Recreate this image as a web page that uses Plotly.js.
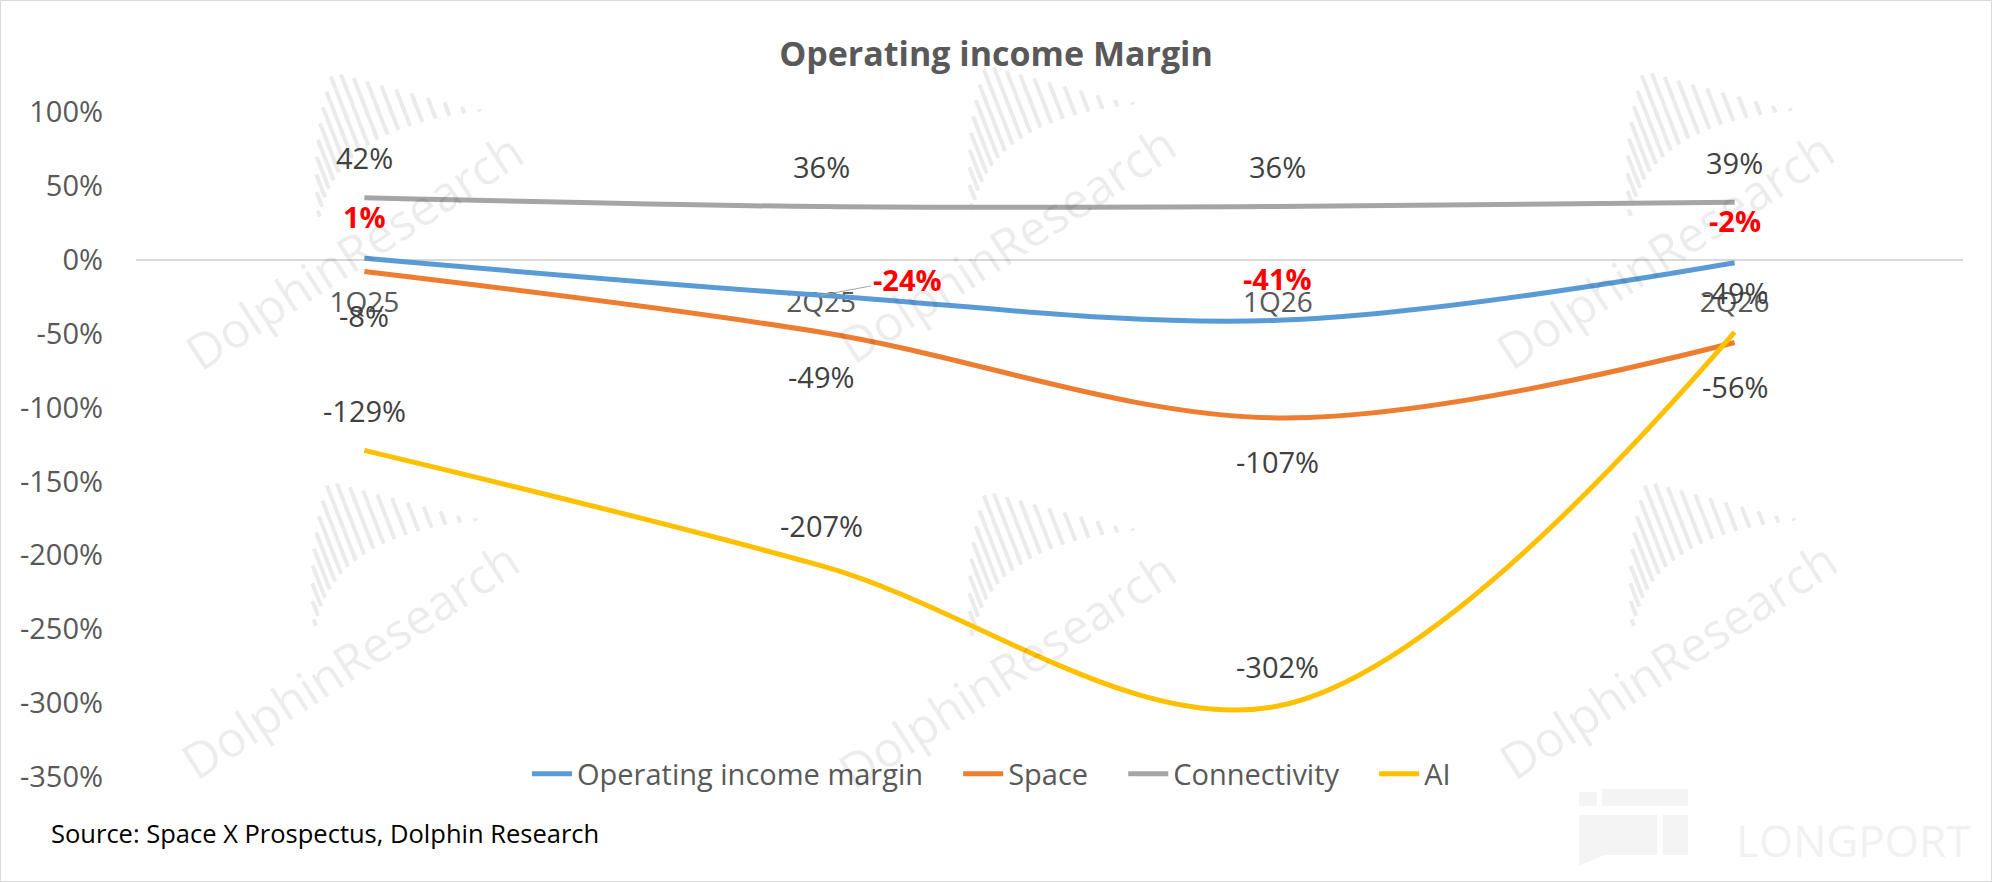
<!DOCTYPE html>
<html>
<head>
<meta charset="utf-8">
<script src="https://cdn.plot.ly/plotly-3.0.1.min.js"></script>
<style>
  body { margin: 0; background: #fff; }
  #wrap { width: 1990px; height: 880px; border: 1px solid #d9d9d9; }
  #chart { width: 1990px; height: 880px; }
</style>
</head>
<body>
<div id="wrap"><div id="chart"></div></div>
<script>
const quarters = ['1Q25', '2Q25', '1Q26', '2Q26'];
const opMargin = [1, -24, -41, -2];
const space = [-8, -49, -107, -56];
const connectivity = [42, 36, 36, 39];
const ai = [-129, -207, -302, -49];

const yTicks = [100, 50, 0, -50, -100, -150, -200, -250, -300, -350];

const font = '"Open Sans", "Noto Sans", sans-serif';
const txtGrey = '#595959';
const gap = '\u00a0\u00a0\u00a0\u00a0';

// pixel -> paper helpers for the decorations (plot area 1827 x 665)
const px = X => (X - 136) / 1827;
const py = Y => (777 - Y) / 665;

const line = (name, y, color) => ({
  x: quarters, y, name, type: 'scatter', mode: 'lines',
  line: { color, width: 5, shape: 'spline', smoothing: 1 },
  hoverinfo: 'skip'
});

const data = [
  line('Operating income margin' + gap, opMargin, '#5B9BD5'),
  line('Space' + gap, space, '#ED7D31'),
  line('Connectivity' + gap, connectivity, '#A5A5A5'),
  line('AI', ai, '#FFC000')
];

let annotations = [];
let shapes = [];

// watermarks (text centres in pixels), drawn first so labels sit on top
const marks = [[353, 251], [1006, 244], [1664, 250], [349, 660], [1006, 670], [1667, 660]];
marks.forEach(([X, Y]) => {
  annotations.push({
    x: px(X), y: py(Y), xref: 'paper', yref: 'paper', xanchor: 'center', yanchor: 'middle',
    text: 'DolphinResearch', showarrow: false, textangle: -33,
    font: { family: font, size: 49, color: 'rgba(0,0,0,0.075)' }
  });
  // fan of bars of the logo
  const ox = X - 73, oy = Y - 201;
  for (let i = 0; i < 19; i++) {
    const t = i / 18;
    const bx = (1 - t) ** 2 * 120 + 2 * (1 - t) * t * 170 + t * t * 600;
    const by = (1 - t) ** 2 * 500 + 2 * (1 - t) * t * 230 + t * t * 185;
    const s = (by - 65 - 0.267 * (bx - 150)) / 0.834;
    const L = Math.max(8, Math.min(s, 20 + t * 500));
    const tx = bx - 0.36 * L, ty = by - 0.93 * L;
    shapes.push({
      type: 'line', xref: 'paper', yref: 'paper', layer: 'below',
      x0: px(ox + bx / 3), y0: py(oy + by / 3), x1: px(ox + tx / 3), y1: py(oy + ty / 3),
      line: { color: '#ebebeb', width: 4 }
    });
  }
});

// data labels, placed via the axes
const lbl = (q, v, shift, opts = {}) => Object.assign({
  x: q, y: v, xref: 'x', yref: 'y', text: v + '%', showarrow: false,
  yshift: shift, font: { family: font, size: 29, color: '#404040' }
}, opts);

quarters.forEach((q, i) => {
  annotations.push(lbl(q, connectivity[i], 40));
  annotations.push(lbl(q, space[i], -44));
  annotations.push(lbl(q, ai[i], 40));
  const red = { font: { family: font, size: 29, color: '#FF0000', weight: 'bold' } };
  if (q === '2Q25') {
    annotations.push(lbl(q, opMargin[i], 0, Object.assign(red, {
      showarrow: true, ax: 86, ay: -16, arrowhead: 0, arrowwidth: 1,
      arrowcolor: '#a6a6a6', standoff: 0
    })));
  } else {
    annotations.push(lbl(q, opMargin[i], 42, red));
  }
});

// LONGPORT logo
const rect = (x0, y0, x1, y1) => ({
  type: 'rect', xref: 'paper', yref: 'paper', layer: 'below',
  x0: px(x0), y0: py(y0), x1: px(x1), y1: py(y1),
  fillcolor: '#f4f4f4', line: { width: 0 }
});
shapes.push(rect(1579, 792, 1597, 806), rect(1602, 789, 1688, 806),
  rect(1579, 815, 1657, 855), rect(1663, 815, 1688, 855));
shapes.push({
  type: 'path', xref: 'paper', yref: 'paper', layer: 'below',
  path: `M ${px(1579)} ${py(855)} L ${px(1579)} ${py(866)} L ${px(1605)} ${py(855)} Z`,
  fillcolor: '#f4f4f4', line: { width: 0 }
});
annotations.push({
  x: px(1853), y: py(840), xref: 'paper', yref: 'paper', xanchor: 'center', yanchor: 'middle',
  text: 'LONGPORT', showarrow: false,
  font: { family: font, size: 44, color: '#f1f1f1' }
});

annotations.push({
  x: px(49), y: py(833), xref: 'paper', yref: 'paper', xanchor: 'left', yanchor: 'middle',
  text: 'Source: Space X Prospectus, Dolphin Research', showarrow: false,
  font: { family: font, size: 25.5, color: '#000' }
});

const layout = {
  width: 1990, height: 880,
  margin: { l: 135, r: 28, t: 111, b: 104 },
  paper_bgcolor: '#fff', plot_bgcolor: 'rgba(0,0,0,0)',
  title: {
    text: '<b>Operating income Margin</b>', x: 0.5, xanchor: 'center',
    y: 1 - 53 / 880, yanchor: 'middle',
    font: { family: font, size: 34, color: txtGrey }
  },
  xaxis: {
    type: 'category', range: [-0.5, 3.5], anchor: 'free', position: 350 / 450,
    showline: true, linecolor: '#d9d9d9', linewidth: 2, showgrid: false,
    ticks: '', ticklabelstandoff: 18, layer: 'below traces',
    tickfont: { family: font, size: 28, color: txtGrey }
  },
  yaxis: {
    range: [-350, 100], tickmode: 'array', tickvals: yTicks,
    ticktext: yTicks.map(v => v + '%'), showgrid: false,
    zeroline: false, showline: false, ticks: '', ticklabelstandoff: 32,
    tickfont: { family: font, size: 29, color: txtGrey }
  },
  showlegend: true,
  legend: {
    orientation: 'h', x: px(527), xanchor: 'left', y: py(774), yanchor: 'middle',
    bgcolor: 'rgba(0,0,0,0)', font: { family: font, size: 29, color: txtGrey },
    itemwidth: 40, tracegroupgap: 0
  },
  shapes,
  annotations
};

Plotly.newPlot('chart', data, layout, { displayModeBar: false });
</script>
</body>
</html>
